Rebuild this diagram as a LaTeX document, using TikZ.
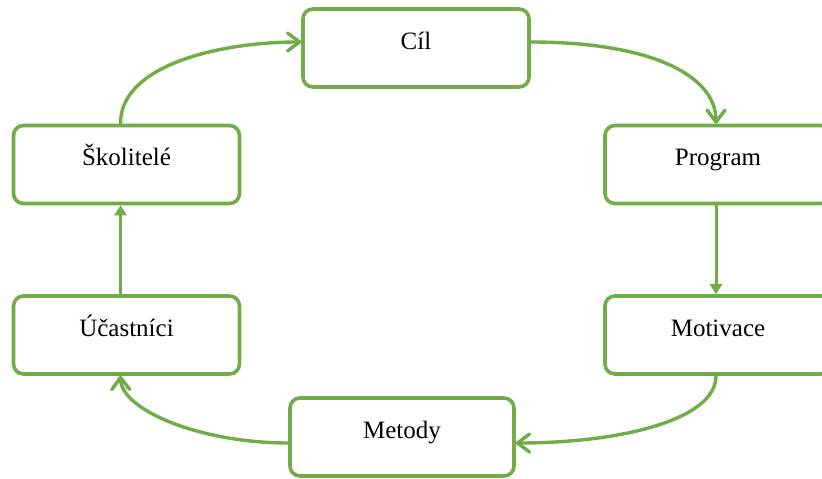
\documentclass[tikz,border=0pt]{standalone}
\usepackage{fontspec}
\setmainfont{Liberation Serif}
\usetikzlibrary{arrows.meta,calc}
\definecolor{ogreen}{HTML}{70AD47}
\tikzset{
  box/.style={draw=ogreen, line width=3.6pt, rounded corners=10pt, fill=white,
    minimum width=226pt, inner sep=0pt, text height=40pt, text depth=38pt,
    font=\fontsize{25}{28}\selectfont, text=black},
  curvearrow/.style={draw=ogreen, line width=3.4pt, line cap=round,
    -{Straight Barb[length=12pt,width=18pt,line cap=round,line join=round]}},
  straightarrow/.style={draw=ogreen, line width=3pt,
    -{Triangle[length=10pt,width=12pt]}}
}
\begin{document}
\begin{tikzpicture}[x=1pt,y=-1pt]
\useasboundingbox (0,0) rectangle (822,479);
\clip (0,0) rectangle (822,479);
\fill[white] (0,0) rectangle (822,479);
\node[box] (cil)  at (416,48)   {Cíl};
\node[box] (skol) at (126.5,164.5) {Školitelé};
\node[box] (prog) at (718,164.5) {Program};
\node[box] (ucas) at (126.5,335) {Účastníci};
\node[box] (moti) at (718,335)  {Motivace};
\node[box, minimum width=224pt] (meto) at (402,437) {Metody};
% connector end points on the named boxes
\coordinate (c1s) at ($(cil.east)+(0,-6)$);
\coordinate (c1e) at ($(prog.north)+(-2,0)$);
\coordinate (c2s) at ($(prog.south)+(-2,0)$);
\coordinate (c2e) at ($(moti.north)+(-2,0)$);
\coordinate (c3s) at ($(moti.south)+(-2,0)$);
\coordinate (c3e) at ($(meto.east)+(0,6)$);
\coordinate (c4s) at ($(meto.west)+(0,6)$);
\coordinate (c4e) at ($(ucas.south)+(-6,0)$);
\coordinate (c5s) at ($(ucas.north)+(-6,0)$);
\coordinate (c5e) at ($(skol.south)+(-6,0)$);
\coordinate (c6s) at ($(skol.north)+(-6,0)$);
\coordinate (c6e) at ($(cil.west)+(0,-6)$);
\draw[curvearrow] (c1s) .. controls (650,42) and (716,75) .. (c1e);
\draw[straightarrow] (c2s) -- (c2e);
\draw[curvearrow] (c3s) .. controls (716,420) and (620,443) .. (c3e);
\draw[curvearrow] (c4s) .. controls (200,443) and (121,410) .. (c4e);
\draw[straightarrow] (c5s) -- (c5e);
\draw[curvearrow] (c6s) .. controls (120,65) and (220,42) .. (c6e);
\end{tikzpicture}
\end{document}
